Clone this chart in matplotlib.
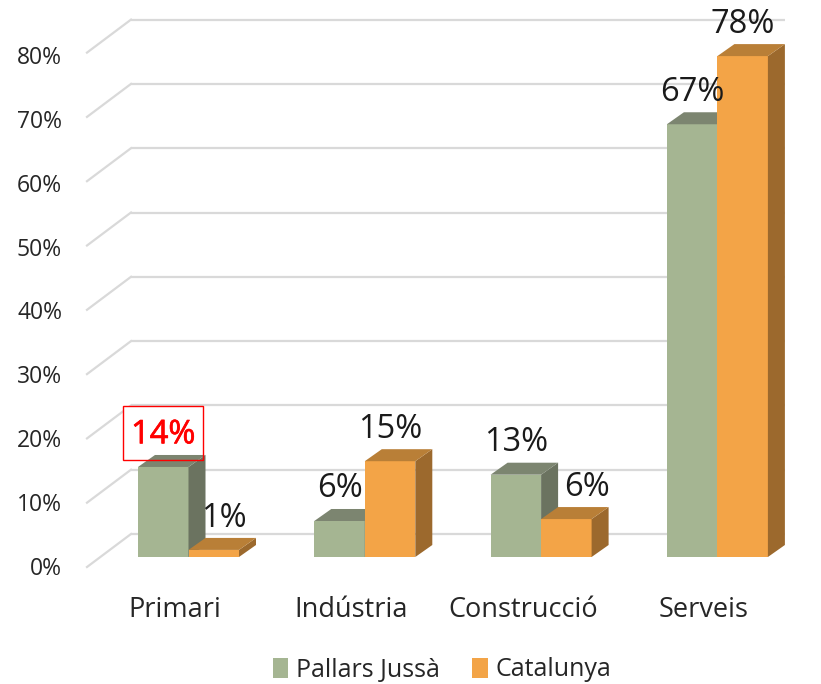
import matplotlib
matplotlib.use("Agg")
import matplotlib.pyplot as plt
import matplotlib.patheffects as pe
from matplotlib.patches import Polygon, Rectangle, Patch

categories = ["Primari", "Indústria", "Construcció", "Serveis"]
pallars = [14, 5.6, 12.8, 67.3]
catalunya = [1.1, 14.9, 5.9, 77.9]
series_names = ["Pallars Jussà", "Catalunya"]
y_ticks = [0, 10, 20, 30, 40, 50, 60, 70, 80]

plt.rcParams['font.family'] = ['Open Sans', 'DejaVu Sans']

W, H = 821, 684
fig = plt.figure(figsize=(W / 100, H / 100), dpi=100)
ax = fig.add_axes([0, 0, 1, 1])

# 1 categoria = 176.3 px, 1% = 6.43 px
ux, uy = 176.3, 6.43
x0, y0 = 188.5, 557
ax.set_xlim(-x0 / ux, (W - x0) / ux)
ax.set_ylim(-(H - y0) / uy, y0 / uy)
ax.axis('off')

bar_w = 50.5 / ux
dx = 17 / ux    # dubina 3D stupca
dy = 12 / uy
back_x = 44 / ux  # dubina zida
back_y = 33 / uy
wall_y = 23 / uy
left = (131 - x0) / ux
right = (785 - x0) / ux

# pomaci teksta u pikselima
cat_shift = [-14, -14, -17.5, -14]
orange_shift = [10, 0, 21, 0]

# mreza
for t in y_ticks:
    yb = t + wall_y
    ax.plot([left, right], [yb, yb], color='#d9d9d9', lw=1.6, zorder=1, solid_capstyle='butt')
    ax.plot([left - back_x, left], [yb - back_y, yb], color='#d9d9d9', lw=1.6, zorder=1)
    ax.text((62 - x0) / ux, t * 63.9 / 64.3 - 12 / uy, f"{t}%", ha='right', va='center', fontsize=16.5,
            color='#262626', zorder=5)


def bar3d(x, v, front, side, top, z):
    ax.add_patch(Rectangle((x, 0), bar_w, v, fc=front, ec='none', zorder=z))
    ax.add_patch(Polygon([(x + bar_w, 0), (x + bar_w + dx, dy), (x + bar_w + dx, v + dy), (x + bar_w, v)],
                         fc=side, ec='none', zorder=z))
    ax.add_patch(Polygon([(x, v), (x + dx, v + dy), (x + bar_w + dx, v + dy), (x + bar_w, v)],
                         fc=top, ec='none', zorder=z))


for i in range(len(categories)):
    bar3d(i - bar_w, pallars[i], '#a5b592', '#6b7360', '#7c8570', 3)
    bar3d(i, catalunya[i], '#f3a447', '#9c692d', '#b97f37', 3.1)
    ax.text(i + cat_shift[i] / ux, -(610 - y0) / uy, categories[i], ha='center', va='center', fontsize=19.5,
            color='#262626')

# oznake vrijednosti
for i in range(len(categories)):
    col = 'red' if i == 0 else '#1a1a1a'
    t1 = ax.text(i - bar_w / 2, pallars[i] + 5.0, f"{pallars[i]:.0f}%", ha='center', va='center', fontsize=23.5,
                 color=col, zorder=8)
    if i == 0:
        t1.set_path_effects([pe.withStroke(linewidth=0.5, foreground='red')])
    ax.text(i + bar_w / 2 + orange_shift[i] / ux, catalunya[i] + 4.9, f"{catalunya[i]:.0f}%", ha='center',
            va='center', fontsize=23.5, color='#1a1a1a', zorder=8)

# crveni okvir oko prve oznake
bx, by = (123 - x0) / ux, (y0 - 460) / uy
bw, bh = 80 / ux, 54 / uy
ax.add_patch(Rectangle((bx, by), bw, bh, fc='white', ec='none', zorder=2))
ax.add_patch(Rectangle((bx, by), bw, bh, fc='none', ec='red', lw=1.0, zorder=7))

handles = [Patch(fc='#a5b592', ec='none'), Patch(fc='#f3a447', ec='none')]
ax.legend(handles, series_names, loc='center', bbox_to_anchor=(442 / W, 1 - 670 / H), ncol=2, frameon=False,
          fontsize=18, handlelength=0.62, handleheight=0.85, handletextpad=0.3, columnspacing=1.3,
          labelcolor='#262626')

fig.savefig("out.png", dpi=100)
